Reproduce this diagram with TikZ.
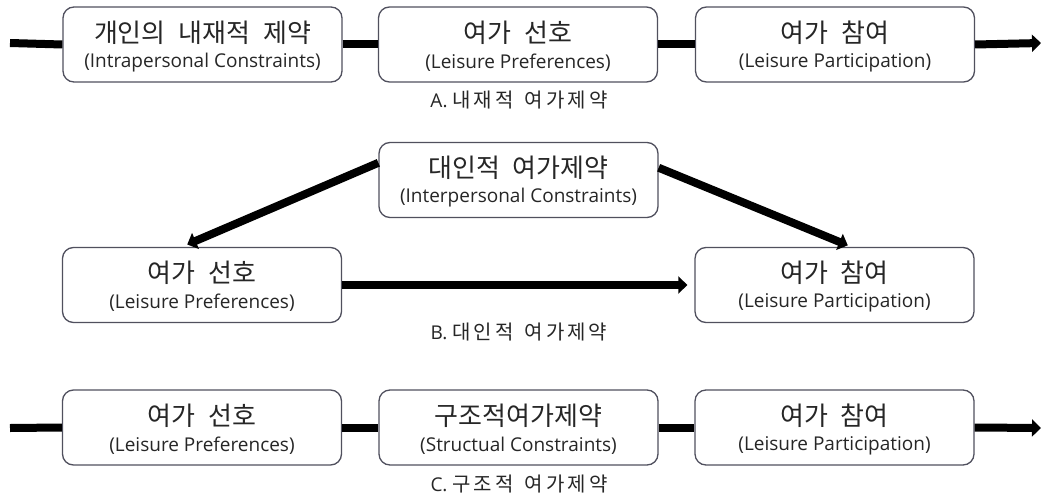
\documentclass[tikz,border=0pt]{standalone}
\usepackage{fontspec}
\setmainfont{Open Sans}
\newfontfamily\kr[WordSpace=2.2]{Noto Sans CJK KR}
\newfontfamily\krcap[LetterSpace=15,WordSpace=1.5]{Noto Sans CJK KR}
\usetikzlibrary{arrows.meta,calc}
\definecolor{boxc}{HTML}{50505E}
\definecolor{txt}{HTML}{262626}
\begin{document}
\begin{tikzpicture}[x=1pt,y=-1pt,
 box/.style={draw=boxc, line width=1.3pt, rounded corners=11pt, fill=white, minimum width=279pt, minimum height=75pt, inner sep=0pt},
 kt/.style={font=\kr\fontsize{26}{30}\selectfont, text=txt, inner sep=0pt},
 et/.style={font=\fontsize{19}{22}\selectfont, text=txt, inner sep=0pt},
 captxt/.style={font=\fontsize{19}{22}\selectfont, text=txt, inner sep=0pt},
 link/.style={line width=8pt, draw=black},
 arr/.style={line width=8pt, draw=black, -{Triangle[length=9pt,width=17pt]}},
]
\useasboundingbox[fill=white] (0,0) rectangle (1043,495);

% Row A
\node[box] (a1) at (202.5,44.5) {};
\node[box] (a2) at (518,44.5) {};
\node[box] (a3) at (835,44.5) {};
\coordinate (as) at (10,43);
\coordinate (ae) at (1041,43);
\draw[link] (as) -- (a1.west);
\draw[link] (a1.east) -- (a2.west);
\draw[link] (a2.east) -- (a3.west);
\draw[arr] (a3.east) -- (ae);
\node[kt] (a1k) at ($(a1.center)+(0,-12)$) {개인의 내재적 제약};
\node[et] (a1e) at ($(a1.center)+(0,18)$) {(Intrapersonal Constraints)};
\node[kt] (a2k) at ($(a2.center)+(0,-12)$) {여가 선호};
\node[et] (a2e) at ($(a2.center)+(0,18)$) {(Leisure Preferences)};
\node[kt] (a3k) at ($(a3.center)+(0,-12)$) {여가 참여};
\node[et] (a3e) at ($(a3.center)+(0,18)$) {(Leisure Participation)};
\node[captxt] (la) at (519,100) {A. {\krcap\fontsize{20}{24}\selectfont 내재적 여가제약}};

% Row B
\node[box] (bt) at (518.5,180) {};
\node[box] (bl) at (202,285) {};
\node[box] (br) at (834.5,285) {};
\draw[arr, shorten >=6pt] (bt.173) -- (bl.118);
\draw[arr, shorten >=4pt] (bt.5) -- (br.66);
\draw[arr, shorten >=7pt] (bl.east) -- (br.west);
\node[kt] (btk) at ($(bt.center)+(0,-12)$) {대인적 여가제약};
\node[et] (bte) at ($(bt.center)+(0,18)$) {(Interpersonal Constraints)};
\node[kt] (blk) at ($(bl.center)+(0,-12)$) {여가 선호};
\node[et] (ble) at ($(bl.center)+(0,18)$) {(Leisure Preferences)};
\node[kt] (brk) at ($(br.center)+(0,-12)$) {여가 참여};
\node[et] (bre) at ($(br.center)+(0,18)$) {(Leisure Participation)};
\node[captxt] (lb) at (519,332) {B. {\krcap\fontsize{20}{24}\selectfont 대인적 여가제약}};

% Row C
\node[box] (c1) at (202,427.5) {};
\node[box] (c2) at (518.5,427.5) {};
\node[box] (c3) at (834.5,427.5) {};
\coordinate (cs) at (10,428);
\coordinate (ce) at (1041,428);
\draw[link] (cs) -- (c1.west);
\draw[link] (c1.east) -- (c2.west);
\draw[link] (c2.east) -- (c3.west);
\draw[arr] (c3.east) -- (ce);
\node[kt] (c1k) at ($(c1.center)+(0,-12)$) {여가 선호};
\node[et] (c1e) at ($(c1.center)+(0,18)$) {(Leisure Preferences)};
\node[kt] (c2k) at ($(c2.center)+(0,-12)$) {구조적여가제약};
\node[et] (c2e) at ($(c2.center)+(0,18)$) {(Structual Constraints)};
\node[kt] (c3k) at ($(c3.center)+(0,-12)$) {여가 참여};
\node[et] (c3e) at ($(c3.center)+(0,18)$) {(Leisure Participation)};
\node[captxt] (lc) at (519,484) {C. {\krcap\fontsize{20}{24}\selectfont 구조적 여가제약}};
\end{tikzpicture}
\end{document}
